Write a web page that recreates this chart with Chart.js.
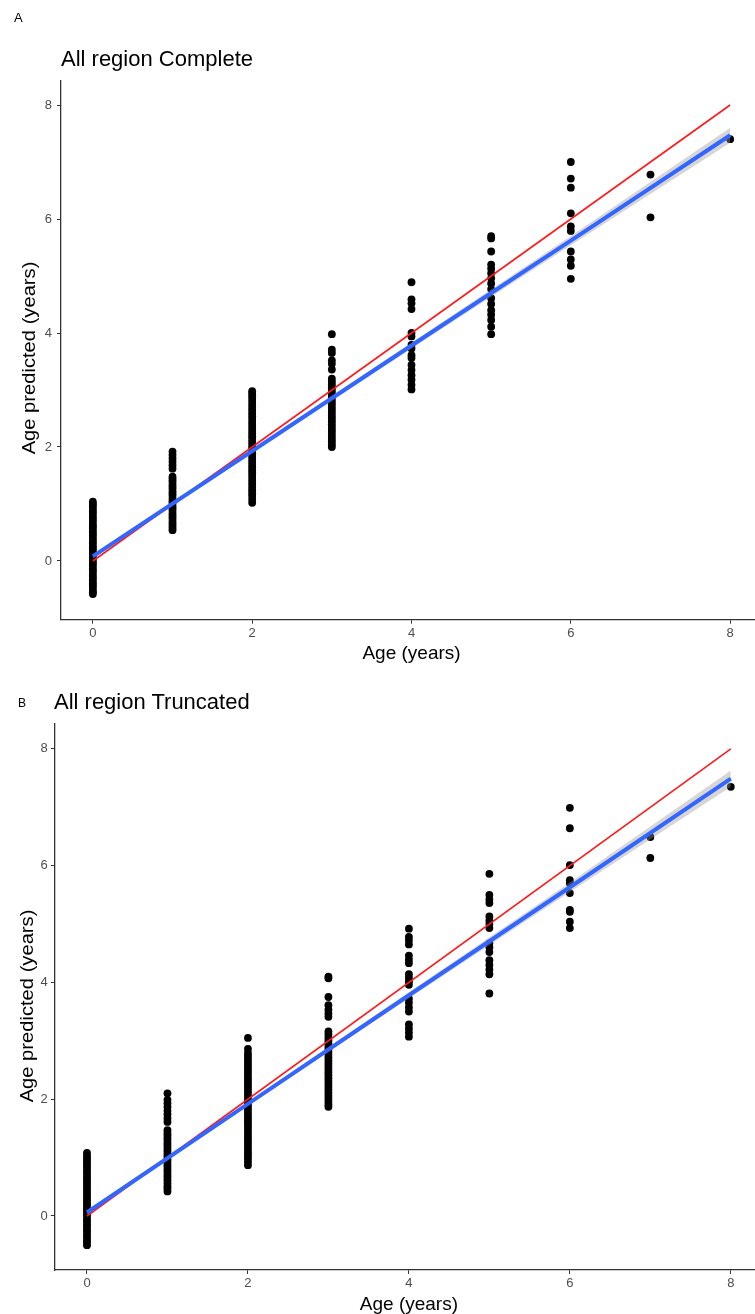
<!DOCTYPE html>
<html>
<head>
<meta charset="utf-8">
<script src="https://cdn.jsdelivr.net/npm/chart.js@4.4.1/dist/chart.umd.min.js"></script>
<style>
  html, body { margin: 0; padding: 0; background: #fff; width: 755px; height: 1314px; overflow: hidden; }
  #wrap { position: relative; width: 755px; height: 1314px; overflow: hidden; }
  .panel { position: absolute; left: 0; width: 770px; }
  .lbl { position: absolute; font-family: "Liberation Sans", Arial, sans-serif; line-height: 1; color: #000; white-space: nowrap; }
  .ttl { font-size: 22px; }
  .let { font-size: 13px; }
  .ytl { font-size: 18px; width: 300px; height: 18px; text-align: center; transform: translate(-50%, -50%) rotate(-90deg) scaleX(1.12); }
</style>
</head>
<body>
<div id="wrap">
  <div class="panel" id="pA" style="top:0;height:680px;"><canvas id="cA" width="770" height="680"></canvas></div>
  <div class="panel" id="pB" style="top:680px;height:700px;"><canvas id="cB" width="770" height="700"></canvas></div>
  <div class="lbl let" style="left:14px;top:11px;">A</div>
  <div class="lbl ttl" style="left:61px;top:48px;">All region Complete</div>
  <div class="lbl let" style="left:18px;top:697px;font-size:12px;">B</div>
  <div class="lbl ttl" style="left:54px;top:691px;">All region Truncated</div>
  <div class="lbl ytl" style="left:29px;top:358px;">Age predicted (years)</div>
  <div class="lbl ytl" style="left:27px;top:1006px;">Age predicted (years)</div>
</div>
<script>
// ---- tick labels ----
const xTicks = [0, 2, 4, 6, 8];
const yTicks = [0, 2, 4, 6, 8];

// ---- Panel A (Complete): predicted age per true age (years) ----
const a0 = [1.04, 1.0, 0.96, 0.91, 0.87, 0.83, 0.78, 0.74, 0.7, 0.65, 0.61, 0.57, 0.52, 0.48, 0.44, 0.39, 0.35, 0.31, 0.26, 0.22, 0.18, 0.13, 0.09, 0.05, 0.0, -0.04, -0.08, -0.13, -0.17, -0.21, -0.26, -0.3, -0.34, -0.39, -0.43, -0.47, -0.52, -0.55, -0.58];
const a1 = [1.92, 1.86, 1.8, 1.74, 1.68, 1.62, 1.48, 1.44, 1.4, 1.35, 1.31, 1.27, 1.22, 1.18, 1.14, 1.09, 1.05, 1.01, 0.96, 0.92, 0.88, 0.83, 0.79, 0.75, 0.7, 0.66, 0.62, 0.58, 0.54];
const a2 = [2.98, 2.94, 2.89, 2.84, 2.79, 2.74, 2.69, 2.64, 2.59, 2.54, 2.49, 2.44, 2.39, 2.34, 2.29, 2.24, 2.19, 2.14, 2.09, 2.04, 1.99, 1.94, 1.89, 1.84, 1.79, 1.74, 1.69, 1.64, 1.59, 1.54, 1.49, 1.44, 1.39, 1.34, 1.29, 1.24, 1.19, 1.14, 1.08, 1.02];
const a3 = [3.98, 3.71, 3.65, 3.52, 3.46, 3.36, 3.2, 3.15, 3.1, 3.05, 3.0, 2.95, 2.9, 2.85, 2.8, 2.75, 2.7, 2.65, 2.6, 2.55, 2.5, 2.45, 2.4, 2.35, 2.3, 2.25, 2.2, 2.15, 2.1, 2.05, 2.0];
const a4 = [4.89, 4.59, 4.52, 4.42, 4.0, 3.94, 3.79, 3.73, 3.61, 3.56, 3.44, 3.35, 3.26, 3.18, 3.09, 3.01];
const a5 = [5.7, 5.66, 5.43, 5.2, 5.13, 5.05, 4.96, 4.87, 4.77, 4.61, 4.51, 4.4, 4.32, 4.23, 4.11, 3.98];
const a6 = [7.0, 6.71, 6.55, 6.1, 5.87, 5.79, 5.43, 5.29, 5.18, 4.95];
const a7 = [6.78, 6.03];
const a8 = [7.4];

// ---- Panel B (Truncated) ----
const b0 = [1.08, 1.03, 0.99, 0.94, 0.9, 0.85, 0.81, 0.76, 0.72, 0.67, 0.63, 0.58, 0.54, 0.49, 0.45, 0.4, 0.36, 0.31, 0.27, 0.22, 0.18, 0.13, 0.09, 0.04, 0.0, -0.05, -0.09, -0.14, -0.18, -0.23, -0.27, -0.32, -0.36, -0.41, -0.45, -0.5];
const b1 = [2.1, 1.99, 1.93, 1.87, 1.8, 1.74, 1.67, 1.61, 1.47, 1.42, 1.38, 1.33, 1.29, 1.24, 1.2, 1.15, 1.11, 1.06, 1.02, 0.97, 0.93, 0.88, 0.84, 0.79, 0.75, 0.7, 0.66, 0.61, 0.56, 0.51, 0.47, 0.42];
const b2 = [3.05, 2.86, 2.79, 2.74, 2.69, 2.64, 2.59, 2.54, 2.49, 2.44, 2.39, 2.34, 2.29, 2.24, 2.19, 2.14, 2.09, 2.04, 1.99, 1.94, 1.89, 1.84, 1.79, 1.74, 1.69, 1.64, 1.59, 1.54, 1.49, 1.44, 1.39, 1.34, 1.29, 1.24, 1.19, 1.14, 1.09, 1.04, 0.99, 0.93, 0.87];
const b3 = [4.1, 4.07, 3.75, 3.61, 3.53, 3.47, 3.41, 3.16, 3.11, 3.06, 3.01, 2.96, 2.91, 2.86, 2.81, 2.76, 2.71, 2.66, 2.61, 2.56, 2.51, 2.46, 2.41, 2.36, 2.31, 2.26, 2.21, 2.16, 2.11, 2.06, 2.01, 1.96, 1.91, 1.87];
const b4 = [4.92, 4.78, 4.72, 4.65, 4.46, 4.39, 4.33, 4.14, 4.08, 4.02, 3.96, 3.72, 3.65, 3.57, 3.5, 3.28, 3.21, 3.14, 3.07];
const b5 = [5.86, 5.5, 5.42, 5.36, 5.13, 5.06, 5.0, 4.93, 4.67, 4.6, 4.52, 4.38, 4.3, 4.22, 4.14, 3.81];
const b6 = [6.99, 6.64, 6.01, 5.75, 5.7, 5.53, 5.24, 5.21, 5.04, 4.93];
const b7 = [6.49, 6.13];
const b8 = [7.35];

// ---- reference line (identity) and linear fits with SE band ----
const refX = [0, 8];
const refY = [0, 8];
const fitX = [0, 2, 4, 6, 8];
const fitA = [0.08, 1.93, 3.78, 5.62, 7.47];
const loA  = [0.04, 1.90, 3.73, 5.54, 7.34];
const hiA  = [0.12, 1.96, 3.83, 5.70, 7.60];
const fitB = [0.06, 1.92, 3.78, 5.63, 7.49];
const loB  = [0.02, 1.89, 3.73, 5.55, 7.35];
const hiB  = [0.10, 1.95, 3.83, 5.71, 7.63];

const FONT = '"Liberation Sans", Arial, sans-serif';

function toPts(cols) {
  const out = [];
  cols.forEach((ys, i) => ys.forEach(y => out.push({ x: i, y: y })));
  return out;
}
function xy(xs, ys) { return xs.map((x, i) => ({ x: x, y: ys[i] })); }

function makeChart(id, cols, fit, lo, hi, cfg) {
  const ctx = document.getElementById(id);
  return new Chart(ctx, {
    type: 'scatter',
    data: {
      datasets: [
        { order: 5, data: toPts(cols), backgroundColor: '#000', borderWidth: 0, pointRadius: 3.9, pointHoverRadius: 3.9 },
        { order: 4, data: xy(refX, refY), showLine: true, borderColor: '#ff1a1a', borderWidth: 1.6, pointRadius: 0, fill: false },
        { order: 3, data: xy(fitX, lo), showLine: true, borderColor: 'rgba(0,0,0,0)', borderWidth: 0, pointRadius: 0, fill: false },
        { order: 2, data: xy(fitX, hi), showLine: true, borderColor: 'rgba(0,0,0,0)', borderWidth: 0, pointRadius: 0, fill: '-1', backgroundColor: 'rgba(153,153,153,0.4)' },
        { order: 1, data: xy(fitX, fit), showLine: true, borderColor: '#3366ff', borderWidth: 4, pointRadius: 0, fill: false }
      ]
    },
    options: {
      responsive: false,
      animation: false,
      devicePixelRatio: 1,
      events: [],
      layout: { padding: { top: cfg.padTop, right: cfg.padRight, bottom: 0, left: 0 } },
      plugins: { legend: { display: false }, tooltip: { enabled: false }, title: { display: false } },
      scales: {
        x: {
          type: 'linear', min: -0.4, max: 8.4,
          afterBuildTicks: s => { s.ticks = xTicks.map(v => ({ value: v })); },
          afterFit: s => { s.height = cfg.xH; },
          grid: { display: true, drawOnChartArea: false, drawTicks: true, tickLength: 4, tickColor: '#333', tickWidth: 1 },
          border: { display: true, color: '#333', width: 1.3 },
          ticks: { color: '#4d4d4d', font: { family: FONT, size: 13 }, padding: 2, maxRotation: 0 },
          title: { display: true, text: 'Age (years)', color: '#000', font: { family: FONT, size: 19 }, padding: { top: 0, bottom: cfg.xTitlePad } }
        },
        y: {
          type: 'linear', min: cfg.yMin, max: cfg.yMax,
          afterBuildTicks: s => { s.ticks = yTicks.map(v => ({ value: v })); },
          afterFit: s => { s.width = cfg.yW; },
          grid: { display: true, drawOnChartArea: false, drawTicks: true, tickLength: 4, tickColor: '#333', tickWidth: 1 },
          border: { display: true, color: '#333', width: 1.3 },
          ticks: { color: '#4d4d4d', font: { family: FONT, size: 13 }, padding: cfg.yTickPad },
          title: { display: false }
        }
      }
    }
  });
}

makeChart('cA', [a0, a1, a2, a3, a4, a5, a6, a7, a8], fitA, loA, hiA,
  { padTop: 80.5, padRight: 8, xH: 60.3, yW: 61, yMin: -1.03, yMax: 8.43, xTitlePad: 14.6, yTickPad: 5 });
makeChart('cB', [b0, b1, b2, b3, b4, b5, b6, b7, b8], fitB, loB, hiB,
  { padTop: 44, padRight: 7, xH: 110, yW: 54.8, yMin: -0.925, yMax: 8.425, xTitlePad: 63.6, yTickPad: 3 });
</script>
</body>
</html>
